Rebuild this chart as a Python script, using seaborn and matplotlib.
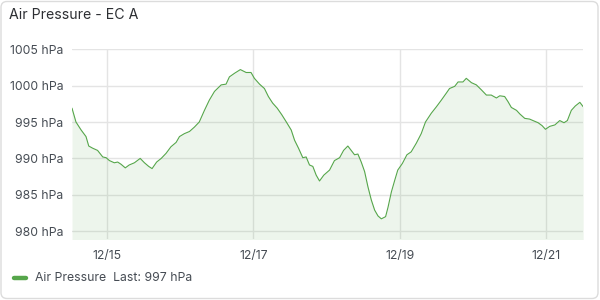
import matplotlib
matplotlib.use("Agg")
import matplotlib.pyplot as plt
import matplotlib.dates as mdates
from matplotlib.patches import FancyBboxPatch
from matplotlib.transforms import IdentityTransform
import seaborn as sns
import pandas as pd
import numpy as np

title = "Air Pressure - EC A"
series_name = "Air Pressure"
last_label = "Last: 997 hPa"
start_date = "2023-12-14 00:00"

# hours since start_date
hours = [12.4, 13.7, 15.4, 17.0, 17.9, 19.2, 20.8, 22.5, 23.6, 24.7, 26.3, 27.4, 28.5,
         29.9, 31.2, 32.9, 34.8, 36.2, 37.6, 38.7, 40.2, 41.7, 43.3, 44.9, 46.6, 47.7,
         49.3, 51.0, 52.6, 54.2, 55.9, 57.5, 59.2, 61.4, 63.0, 64.1, 65.8, 67.7, 69.6,
         71.2, 72.3, 74.0, 75.6, 76.9, 78.3, 79.8, 81.3, 82.8, 84.4, 85.5, 86.8, 88.2,
         89.3, 90.4, 91.5, 92.6, 93.7, 95.1, 97.0, 98.6, 100.3, 101.6, 103.0, 104.1,
         105.2, 106.3, 107.4, 108.5, 109.6, 110.7, 111.8, 112.9, 114.0, 115.4, 116.2,
         117.3, 118.4, 119.4, 120.9, 122.4, 123.8, 125.5, 127.1, 128.5, 130.4, 132.1,
         133.7, 135.4, 136.4, 138.1, 139.2, 140.8, 141.9, 143.6, 145.2, 146.9, 148.5,
         150.1, 151.8, 152.9, 154.5, 155.6, 156.7, 158.4, 159.5, 161.1, 162.7, 163.8,
         165.5, 166.8, 167.9, 169.3, 171.0, 172.6, 174.0, 175.1, 176.4, 177.7, 179.2,
         180.3]
pressure = [996.9, 995.0, 993.9, 993.0, 991.7, 991.4, 991.1, 990.2, 990.1, 989.7, 989.4,
            989.5, 989.2, 988.7, 989.1, 989.4, 990.0, 989.4, 988.9, 988.6, 989.5, 990.0,
            990.7, 991.6, 992.2, 993.0, 993.4, 993.7, 994.3, 995.0, 996.6, 998.0, 999.2,
            1000.1, 1000.2, 1001.2, 1001.7, 1002.2, 1001.8, 1001.8, 1001.0, 1000.2, 999.6,
            998.5, 997.6, 996.9, 996.0, 995.0, 993.9, 992.5, 991.4, 990.1, 990.2, 989.1,
            988.9, 987.7, 986.9, 987.7, 988.4, 989.7, 990.1, 991.1, 991.7, 991.1, 990.5,
            990.6, 989.5, 988.2, 986.1, 984.3, 982.9, 982.1, 981.7, 982.0, 983.3, 985.4,
            987.0, 988.4, 989.3, 990.5, 990.9, 992.1, 993.4, 995.0, 996.2, 997.1, 998.0,
            999.0, 999.6, 999.9, 1000.5, 1000.5, 1001.0, 1000.4, 1000.1, 999.4, 998.7,
            998.7, 998.3, 998.6, 998.5, 997.8, 997.0, 996.6, 996.1, 995.5, 995.4, 995.2,
            994.9, 994.5, 994.0, 994.4, 994.6, 995.2, 994.9, 995.2, 996.6, 997.2, 997.7,
            997.1]
yticks = [980, 985, 990, 995, 1000, 1005]
xtick_days = ["2023-12-15", "2023-12-17", "2023-12-19", "2023-12-21"]

df = pd.DataFrame({
    "time": pd.to_datetime(start_date) + pd.to_timedelta(hours, unit="h"),
    "pressure": pressure,
})

sns.set_theme(style="white")
plt.rcParams["font.family"] = ["Inter", "DejaVu Sans"]

line_color = "#56A64B"
text_color = "#464C54"
grid_color = "#E4E4E4"

fig = plt.figure(figsize=(6, 3), dpi=100)
fig.patch.set_facecolor("white")
ax = fig.add_axes([0.12, 0.205, 0.852, 0.631])

sns.lineplot(data=df, x="time", y="pressure", ax=ax, color=line_color, linewidth=0.8)
ax.fill_between(df["time"], df["pressure"], 978.0, color=line_color, alpha=0.1, linewidth=0)

ax.set_xlim(df["time"].iloc[0], df["time"].iloc[-1])
ax.set_ylim(979.0, 1005.0)
ax.set_yticks(yticks)
ax.set_yticklabels([f"{v} hPa" for v in yticks])
ax.set_xticks(pd.to_datetime(xtick_days))
ax.xaxis.set_major_formatter(mdates.DateFormatter("%m/%d"))
ax.set_xlabel("")
ax.set_ylabel("")
ax.grid(True, color=grid_color, linewidth=1.0)
ax.set_axisbelow(True)
for s in ax.spines.values():
    s.set_visible(False)
ax.tick_params(axis="both", length=0, labelsize=8.8, colors=text_color)
ax.tick_params(axis="y", pad=6)
ax.tick_params(axis="x", pad=8)

fig.text(9 / 600, 1 - 15 / 300, title, fontsize=10.2, color="#2D2F33", va="center", ha="left")

# legend
fig.add_artist(plt.Line2D([14 / 600, 26 / 600], [1 - 278 / 300, 1 - 278 / 300],
                          color=line_color, linewidth=3.2, solid_capstyle="round",
                          transform=fig.transFigure))
fig.text(35 / 600, 1 - 278 / 300, f"{series_name}  {last_label}", fontsize=8.8,
         color=text_color, va="center", ha="left")

# card border
card = FancyBboxPatch((1, 1.5), 597, 297, boxstyle="round,pad=0,rounding_size=6",
                      transform=IdentityTransform(), facecolor="none",
                      edgecolor="#DCDCDC", linewidth=1.0)
fig.add_artist(card)

fig.savefig("out.png", dpi=100, facecolor="white")
